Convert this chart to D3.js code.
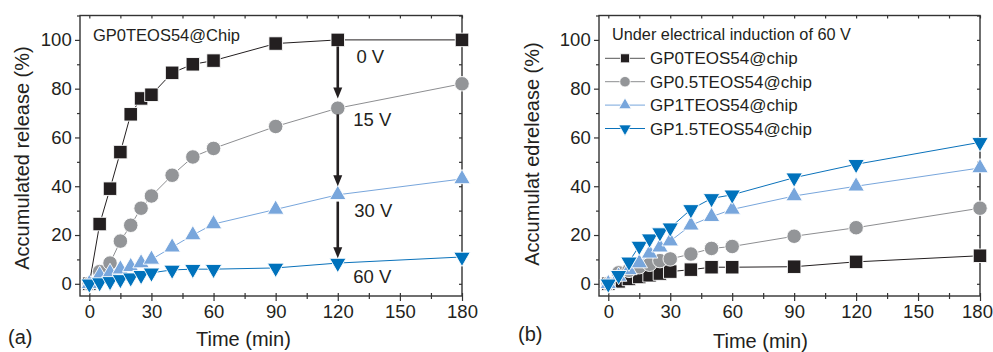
<!DOCTYPE html>
<html><head><meta charset="utf-8">
<script src="https://cdn.jsdelivr.net/npm/d3@7"></script>
<style>
body{margin:0;background:#fff}
svg{display:block}
text{font-family:"Liberation Sans",Arial,Helvetica,sans-serif;fill:#231f20}
</style>
</head><body><svg id="c" width="993" height="352"></svg>
<script>
// ---------- data ----------
const times = [0, 5, 10, 15, 20, 25, 30, 40, 50, 60, 90, 120, 180];
const left0V  = [0, 24.5, 39, 54, 69.5, 76, 77.5, 86.5, 90, 91.5, 98.5, 100, 100];
const left15V = [0, 5, 8.5, 17.5, 24, 31, 36, 44.5, 52, 55.5, 64.5, 72, 82];
const left30V = [0, 3.5, 4.5, 6, 7, 8.5, 10, 15, 20, 24.5, 30.5, 36.5, 43];
const left60V = [0, 0.5, 1, 1.8, 2.5, 3.5, 4.5, 5.7, 6, 6, 6.5, 8.5, 11];
const voltLabels = ["0 V", "15 V", "30 V", "60 V"];
const voltLabelX = [129, 127.5, 128, 127.5];
const voltLabelY = [90.5, 64.5, 27.5, 0.4];
const arrowX = [120, 120, 120];
const arrowFrom = [97.3, 69.5, 33.7];
const arrowTo = [76, 40, 10.5];
const leftTitle = "GP0TEOS54@Chip";

const rightNames = ["GP0TEOS54@chip", "GP0.5TEOS54@chip", "GP1TEOS54@chip", "GP1.5TEOS54@chip"];
const rightGP0   = [0, 1, 2, 2.8, 3.5, 4.2, 5, 5.8, 6.8, 6.8, 7, 9, 11.5];
const rightGP05  = [0, 4.5, 5.5, 7, 8, 9.5, 10.2, 12.2, 14.5, 15.3, 19.5, 23, 31];
const rightGP1   = [0, 3, 5.7, 8.5, 12.5, 15, 17.5, 24, 27.5, 30.5, 36, 40, 47.5];
const rightGP15  = [0, 3.5, 9, 15.5, 18.5, 21, 23, 30.5, 35, 36.5, 43.5, 49, 58];
const legendTitle = "Under electrical induction of 60 V";

const xTicks = [0, 30, 60, 90, 120, 150, 180];
const xMinorTicks = [15, 45, 75, 105, 135, 165];
const yTicks = [0, 20, 40, 60, 80, 100];
const yMinorTicks = [10, 30, 50, 70, 90, 110];
const xDomain = [-4.5, 180];
const yDomain = [-5, 110];

// ---------- styles ----------
const shapes = ["square", "circle", "up", "down"];
const fills = ["#231f20", "#939598", "#78a6dc", "#0072bc"];
const lineCols = ["#231f20", "#8d8e91", "#78a6dc", "#0a72bb"];

const svg = d3.select("#c");

function markerPath(shape, s) {
  if (shape === "square") { const h = s / 2; return `M${-h},${-h}H${h}V${h}H${-h}Z`; }
  if (shape === "circle") { const r = s / 2; return `M${r},0A${r},${r} 0 1,1 ${-r},0A${r},${r} 0 1,1 ${r},0Z`; }
  const w = s / 2, h = s * 0.866;
  if (shape === "up") return `M0,${-h * 2 / 3}L${w},${h / 3}L${-w},${h / 3}Z`;
  return `M0,${h * 2 / 3}L${w},${-h / 3}L${-w},${-h / 3}Z`;
}
const markerSize = {square: 13.5, circle: 14.5, up: 16.5, down: 16.5};

function frame(x, y, titleText, titleX, titleY, xlabX, xlabY, tagText, tagX, tagY, lastDx) {
  const g = svg.append("g");
  const [x0, x1] = x.range(), [y0, y1] = y.range();
  const styleAxis = sel => {
    sel.select(".domain").remove();
    sel.selectAll("line").attr("stroke", "#333").attr("stroke-width", 1.2);
    sel.selectAll("text").attr("font-size", 18.5).attr("fill", "#231f20")
       .attr("font-family", '"Liberation Sans",Arial,sans-serif');
  };
  const bottomMajor = g.append("g").attr("transform", `translate(0,${y0})`)
    .call(d3.axisBottom(x).tickValues(xTicks).tickSize(5).tickPadding(3.5)).call(styleAxis);
  bottomMajor.selectAll(".tick text").filter(d => d === 180).attr("dx", lastDx);
  g.append("g").attr("transform", `translate(0,${y0})`)
    .call(d3.axisBottom(x).tickValues(xMinorTicks).tickSize(3).tickFormat("")).call(styleAxis);
  g.append("g").attr("transform", `translate(0,${y0})`)
    .call(d3.axisTop(x).tickValues(xTicks.concat(xMinorTicks)).tickSize(3).tickFormat("")).call(styleAxis);
  g.append("g").attr("transform", `translate(0,${y1})`)
    .call(d3.axisBottom(x).tickValues(xTicks.concat(xMinorTicks)).tickSize(3).tickFormat("")).call(styleAxis);
  g.append("g").attr("transform", `translate(${x0},0)`)
    .call(d3.axisLeft(y).tickValues(yTicks).tickSize(5).tickPadding(3.3)).call(styleAxis);
  g.append("g").attr("transform", `translate(${x0},0)`)
    .call(d3.axisLeft(y).tickValues(yMinorTicks).tickSize(3).tickFormat("")).call(styleAxis);
  g.append("g").attr("transform", `translate(${x1},0)`)
    .call(d3.axisLeft(y).tickValues(yTicks.concat(yMinorTicks)).tickSize(3).tickFormat("")).call(styleAxis);
  g.append("rect").attr("x", x0).attr("y", y1).attr("width", x1 - x0).attr("height", y0 - y1)
    .attr("fill", "none").attr("stroke", "#333").attr("stroke-width", 1.4);
  svg.append("text").attr("transform", `translate(${titleX},${titleY}) rotate(-90)`)
    .attr("text-anchor", "middle").attr("font-size", 20).text(titleText);
  svg.append("text").attr("x", xlabX).attr("y", xlabY).attr("font-size", 20).text("Time (min)");
  svg.append("text").attr("x", tagX).attr("y", tagY).attr("font-size", 20).text(tagText);
}

function drawSeries(x, y, seriesList) {
  const line = d3.line().x((d, i) => x(times[i])).y(d => y(d));
  const g = svg.append("g");
  seriesList.forEach((vals, k) => {
    g.append("path").attr("d", line(vals)).attr("fill", "none")
      .attr("stroke", lineCols[k]).attr("stroke-width", 1);
  });
  seriesList.forEach((vals, k) => {
    g.append("g").selectAll("path").data(vals).join("path")
      .attr("transform", (d, i) => `translate(${x(times[i])},${y(d)})`)
      .attr("d", markerPath(shapes[k], markerSize[shapes[k]]))
      .attr("fill", fills[k]).attr("stroke", "#fff").attr("stroke-width", 0.9);
  });
}

// ---------- left panel ----------
const xa = d3.scaleLinear(xDomain, [80, 462]);
const ya = d3.scaleLinear(yDomain, [296, 15.5]);
frame(xa, ya, "Accumulated release (%)", 29, 158, 196, 346, "(a)", 8, 344, 0);
drawSeries(xa, ya, [left0V, left15V, left30V, left60V]);
svg.append("text").attr("x", 93).attr("y", 41).attr("font-size", 16.5).text(leftTitle);
const ag = svg.append("g");
arrowX.forEach((ax, i) => {
  const px = xa(ax), py0 = ya(arrowFrom[i]), py1 = ya(arrowTo[i]);
  ag.append("line").attr("x1", px).attr("x2", px).attr("y1", py0).attr("y2", py1 - 9)
    .attr("stroke", "#231f20").attr("stroke-width", 2.6);
  ag.append("path").attr("d", `M${px - 4.5},${py1 - 11}L${px + 4.5},${py1 - 11}L${px},${py1}Z`)
    .attr("fill", "#231f20");
});
svg.append("g").selectAll("text").data(voltLabels).join("text")
  .attr("x", (d, i) => xa(voltLabelX[i])).attr("y", (d, i) => ya(voltLabelY[i]))
  .attr("font-size", 18.5).text(d => d);

// ---------- right panel ----------
const xb = d3.scaleLinear(xDomain, [599, 980]);
const yb = d3.scaleLinear(yDomain, [296, 15.5]);
frame(xb, yb, "Accumulat edrelease (%)", 539, 154, 713, 347.5, "(b)", 518, 341, -3);
drawSeries(xb, yb, [rightGP0, rightGP05, rightGP1, rightGP15]);
svg.append("text").attr("x", 612).attr("y", 39.5).attr("font-size", 16.3).text(legendTitle);
const leg = svg.append("g");
const legSizes = {square: 9, circle: 10.5, up: 12.5, down: 12.5};
rightNames.forEach((name, k) => {
  const cy = 58.3 + k * 23.4;
  leg.append("line").attr("x1", 605).attr("x2", 645).attr("y1", cy).attr("y2", cy)
    .attr("stroke", lineCols[k] === "#231f20" ? "#555" : lineCols[k]).attr("stroke-width", 1);
  leg.append("path").attr("transform", `translate(625,${cy})`)
    .attr("d", markerPath(shapes[k], legSizes[shapes[k]])).attr("fill", fills[k])
    .attr("stroke", "#fff").attr("stroke-width", 0.8);
  leg.append("text").attr("x", 650).attr("y", cy + 6).attr("font-size", 17).text(name);
});
</script>
</body></html>
